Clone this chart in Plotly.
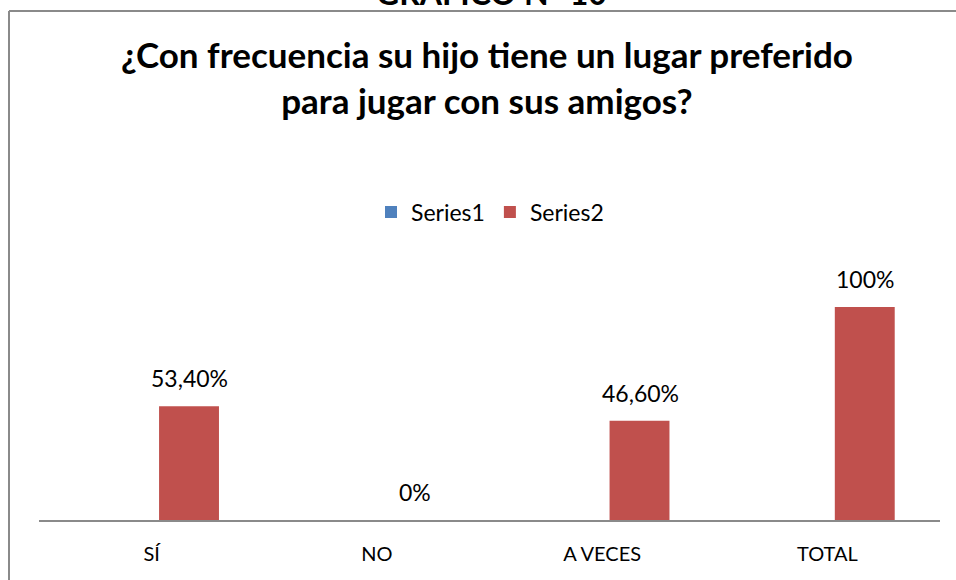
import plotly.graph_objects as go

categories = ["SÍ", "NO", "A VECES", "TOTAL"]
series1 = [0, 0, 0, 0]
series2 = [0.534, 0.0, 0.466, 1.0]
series2_labels = ["53,40%", "0%", "46,60%", "100%"]
series_names = ["Series1", "Series2"]
colors = ["#4F81BD", "#C0504D"]

W, H = 956, 580
L, R, T, B = 39, 16, 307, 60
PW, PH = W - L - R, H - T - B


def px2x(px):
    return (px - L) / PW


def px2y(py):
    return (H - B - py) / PH


FONT = "Lato"

fig = go.Figure()
fig.add_trace(go.Bar(x=categories, y=series1, name=series_names[0],
                     marker=dict(color=colors[0], line=dict(width=0)),
                     width=0.266, offset=-0.233, showlegend=True))
fig.add_trace(go.Bar(x=categories, y=series2, name=series_names[1],
                     marker=dict(color=colors[1], line=dict(width=0)),
                     width=0.266, offset=0.033, showlegend=True))

annotations = []
for c, v, t in zip(categories, series2, series2_labels):
    annotations.append(dict(x=c, y=v, xref="x", yref="y", text=t, showarrow=False,
                            xanchor="center", yanchor="bottom", xshift=38, yshift=12,
                            font=dict(family=FONT, size=23, color="#000000")))

annotations.append(dict(x=px2x(491), y=px2y(14), xref="paper", yref="paper",
                        text="<b>GRÁFICO N° 10</b>", showarrow=False,
                        xanchor="center", yanchor="bottom",
                        font=dict(family=FONT, size=32, color="#000000")))
annotations.append(dict(x=px2x(487), y=px2y(77), xref="paper", yref="paper",
                        text="<b>¿Con frecuencia su hijo tiene un lugar preferido<br>para jugar con sus amigos?</b>",
                        showarrow=False, xanchor="center", yanchor="middle",
                        font=dict(family=FONT, size=35, color="#000000")))

shapes = [
    dict(type="line", xref="paper", yref="paper", x0=px2x(9), x1=px2x(960),
         y0=px2y(11), y1=px2y(11), line=dict(color="#8a8a8a", width=2)),
    dict(type="line", xref="paper", yref="paper", x0=px2x(9), x1=px2x(9),
         y0=px2y(11), y1=px2y(590), line=dict(color="#8a8a8a", width=2)),
]

fig.update_layout(
    width=W, height=H,
    margin=dict(l=L, r=R, t=T, b=B, pad=0),
    paper_bgcolor="white", plot_bgcolor="white",
    barmode="overlay",
    font=dict(family=FONT, size=20, color="#000000"),
    showlegend=True,
    legend=dict(orientation="h", x=px2x(490), y=px2y(212), xanchor="center", yanchor="middle",
                font=dict(family=FONT, size=23, color="#000000"),
                itemwidth=30, bgcolor="rgba(0,0,0,0)"),
    annotations=annotations,
    shapes=shapes,
    xaxis=dict(type="category", range=[-0.5, 3.5], showline=True, linecolor="#8a8a8a",
               linewidth=2, ticks="", showgrid=False, zeroline=False,
               tickfont=dict(family=FONT, size=20, color="#000000"),
               ticklabelstandoff=15),
    yaxis=dict(range=[0, 1], visible=False, showgrid=False, zeroline=False),
)

fig.write_html("out.html", config={"displayModeBar": False},
               post_script="document.body.style.margin='0';document.body.style.overflow='hidden';")
